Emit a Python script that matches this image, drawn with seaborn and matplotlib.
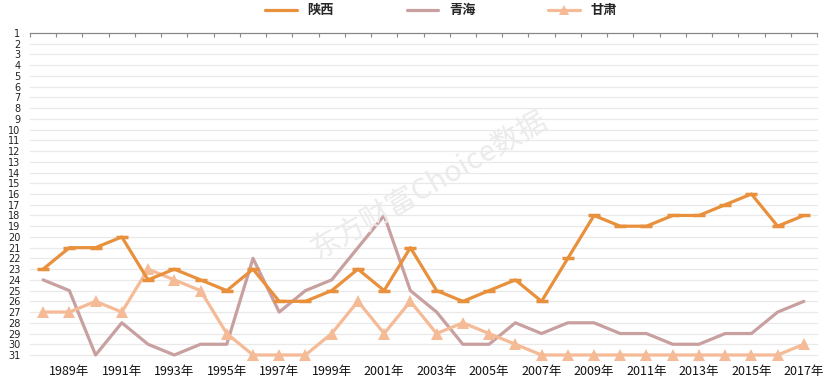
import numpy as np
import pandas as pd
import matplotlib
matplotlib.use("Agg")
import matplotlib.pyplot as plt
import seaborn as sns
from matplotlib.lines import Line2D

years = list(range(1988, 2018))
shaanxi = [23, 21, 21, 20, 24, 23, 24, 25, 23, 26, 26, 25, 23, 25, 21,
           25, 26, 25, 24, 26, 22, 18, 19, 19, 18, 18, 17, 16, 19, 18]
qinghai = [24, 25, 31, 28, 30, 31, 30, 30, 22, 27, 25, 24, 21, 18, 25,
           27, 30, 30, 28, 29, 28, 28, 29, 29, 30, 30, 29, 29, 27, 26]
gansu = [27, 27, 26, 27, 23, 24, 25, 29, 31, 31, 31, 29, 26, 29, 26,
         29, 28, 29, 30, 31, 31, 31, 31, 31, 31, 31, 31, 31, 31, 30]
series_names = ["陕西", "青海", "甘肃"]
colors = ["#E8903C", "#C9A0A0", "#F5BA96"]
markers = ["_", None, "^"]
year_labels = [f"{y}年" if y % 2 == 1 else "" for y in years]

df = pd.DataFrame({"idx": np.arange(len(years)), "陕西": shaanxi, "青海": qinghai, "甘肃": gansu})
long = df.melt(id_vars="idx", var_name="省份", value_name="排名")

sns.set_theme(style="white")
plt.rcParams["font.family"] = ["Noto Sans CJK SC", "DejaVu Sans"]

fig = plt.figure(figsize=(8.32, 3.83), dpi=100)
ax = fig.add_axes([30 / 832, 1 - 355 / 383, 787 / 832, 322 / 383])

# watermark
fig.text(430 / 832, 1 - 185 / 383, "东方财富Choice数据", fontsize=21, color="#EBEBEB",
         rotation=30, ha="center", va="center", zorder=0)

for y in range(2, 32):
    ax.axhline(y, color="#E9E9E9", lw=0.9, zorder=0)

order = [1, 2, 0]
for i in order:
    name = series_names[i]
    sub = long[long["省份"] == name]
    kw = dict(linewidth=2.3, color=colors[i], ax=ax, legend=False, zorder=3 + (i == 0))
    if markers[i] == "^":
        kw.update(marker="^", markersize=8, markeredgewidth=0)
    elif markers[i] == "_":
        kw.update(marker="_", markersize=8, markeredgewidth=2.5,
                  markeredgecolor=colors[i], markerfacecolor=colors[i])
    sns.lineplot(data=sub, x="idx", y="排名", **kw)
for ln in ax.get_lines():
    ln.set_clip_on(False)

ax.set_xlim(-0.5, len(years) - 0.5)
ax.set_ylim(31, 1)
ax.set_yticks(range(1, 32))
ax.set_yticklabels([str(v) for v in range(1, 32)], fontsize=7, color="#222222",
                   family="DejaVu Sans")
ax.set_xticks(np.arange(len(years)))
ax.set_xticklabels(year_labels, fontsize=9, color="#111111")
ax.set_xticks(np.arange(-0.5, len(years)), minor=True)
ax.tick_params(axis="x", which="major", length=0, pad=7)
ax.tick_params(axis="x", which="minor", top=True, bottom=False, direction="in",
               length=3, color="#888888", width=0.8)
ax.tick_params(axis="y", length=0, pad=7)
ax.set_xlabel("")
ax.set_ylabel("")
for s in ["left", "right", "bottom"]:
    ax.spines[s].set_visible(False)
ax.spines["top"].set_color("#888888")
ax.spines["top"].set_linewidth(0.9)

handles = [
    Line2D([], [], color=colors[0], lw=2.3),
    Line2D([], [], color=colors[1], lw=2.3),
    Line2D([], [], color=colors[2], lw=2.3, marker="^", markersize=7, markeredgewidth=0),
]
fig.legend(handles, series_names, loc="center", bbox_to_anchor=(0.53, 0.973), ncol=3,
           frameon=False, handlelength=2.4, columnspacing=5.5,
           prop={"weight": "bold", "size": 9.5})

fig.savefig("out.png", dpi=100)
